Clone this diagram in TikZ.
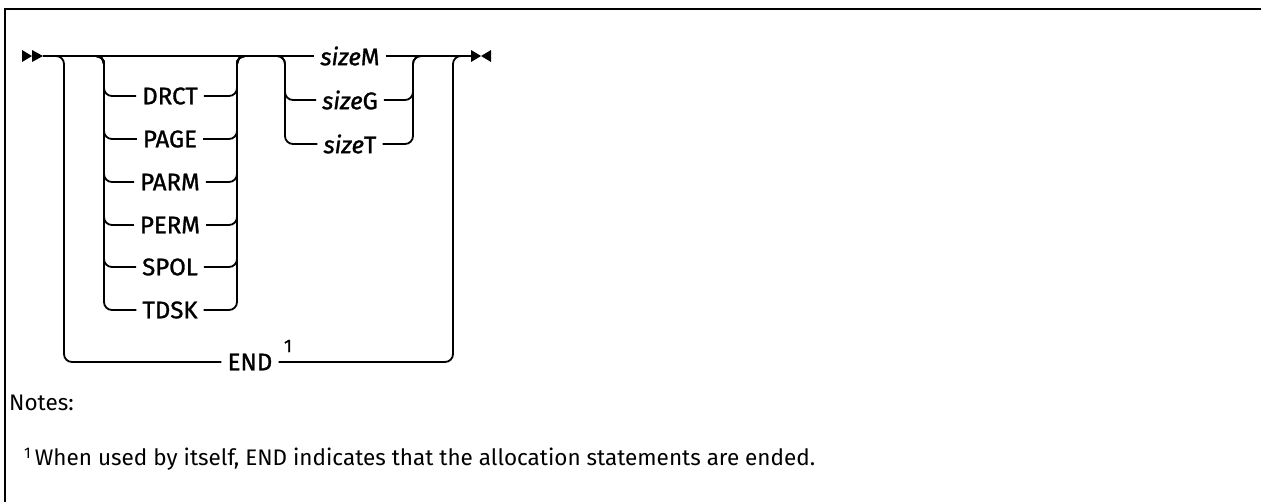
\documentclass[tikz,border=0pt]{standalone}
\usepackage{fontspec}
\setmainfont{Fira Sans}
\newfontfamily\labfont{Fira Sans}[FakeBold=1.2]
\begin{document}
\begin{tikzpicture}[x=1pt,y=-1pt,
  rail/.style={line width=1.8pt, rounded corners=8pt},
  lab/.style={font=\labfont\fontsize{24}{24}\selectfont, inner xsep=6pt, inner ysep=0pt},
  notefont/.style={font=\fontsize{22.5}{26}\selectfont, inner sep=0pt}]
\useasboundingbox (0,0) rectangle (1261,501);
\draw[line width=2.2pt] (1265,9) -- (5,9) -- (5,505);
% labels
\node[lab] (drct) at (170,96) {DRCT};
\node[lab] (page) at (170,139) {PAGE};
\node[lab] (parm) at (170,182) {PARM};
\node[lab] (perm) at (170,225) {PERM};
\node[lab] (spol) at (170,267) {SPOL};
\node[lab] (tdsk) at (170,310) {TDSK};
\node[lab] (sm) at (350,56) {\textit{size}M};
\node[lab] (sg) at (350,100) {\textit{size}G};
\node[lab] (st) at (350,144) {\textit{size}T};
\node[lab] (end) at (250,362) {END};
\node[font=\labfont\fontsize{18}{18}\selectfont, inner sep=0pt] (fn) at (288,346) {1};
% junctions
\coordinate (start) at (43,56);
\coordinate (stop) at (471,56);
\coordinate (eL) at (64,56);
\coordinate (eR) at (453,56);
\coordinate (aL) at (104,56);
\coordinate (aR) at (237,56);
\coordinate (bL) at (285,56);
\coordinate (bR) at (413,56);
% main line
\draw[rail] (start) -- (sm.west);
\draw[rail] (sm.east) -- (stop);
% group A
\foreach \n in {drct,page,parm,perm,spol,tdsk}{
  \draw[rail] ([xshift=-8pt]aL) -- (aL) |- (\n.west);
  \draw[rail] (\n.east) -| (aR) -- ([xshift=8pt]aR);
}
% group B
\foreach \n in {sg,st}{
  \draw[rail] ([xshift=-8pt]bL) -- (bL) |- (\n.west);
  \draw[rail] (\n.east) -| (bR) -- ([xshift=8pt]bR);
}
% END loop
\draw[rail] ([xshift=-8pt]eL) -- (eL) |- (end.west);
\draw[rail] (end.east) -| (eR) -- ([xshift=8pt]eR);
% start and stop marks
\fill (22,50) -- (32,56) -- (22,62) -- cycle;
\fill (32,50) -- (43,56) -- (32,62) -- cycle;
\fill (471,50) -- (481,56) -- (471,62) -- cycle;
\fill (491,50) -- (481,56) -- (491,62) -- cycle;
% notes
\node[notefont, anchor=base west] (notes) at (9,410) {Notes:};
\node[notefont, anchor=base west] (note1) at (24,465) {\raisebox{7pt}{\fontsize{15.5}{15.5}\selectfont 1}\hspace{4pt}When used by itself, END indicates that the allocation statements are ended.};
\end{tikzpicture}
\end{document}
